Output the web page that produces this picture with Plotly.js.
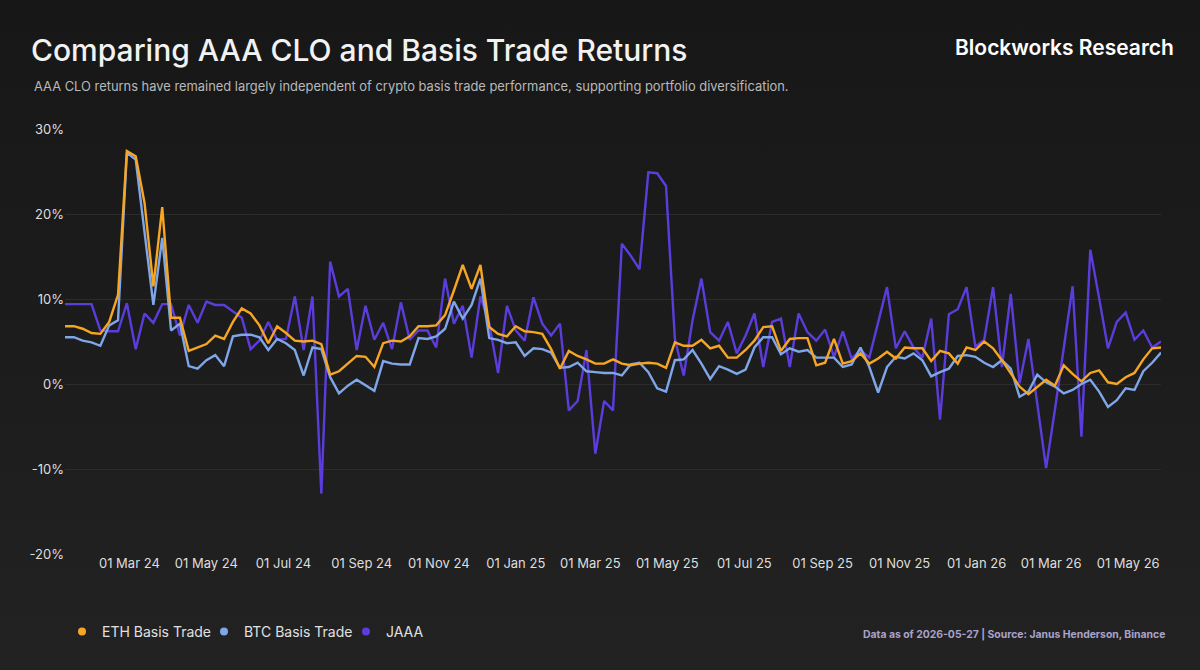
<!DOCTYPE html>
<html>
<head>
<meta charset="utf-8">
<script src="https://cdn.plot.ly/plotly-3.0.1.min.js"></script>
<style>
  html, body { margin: 0; padding: 0; width: 1200px; height: 670px; overflow: hidden;
    background: linear-gradient(180deg, #171717 0%, #1c1c1c 50%, #222222 100%); }
  #chart { width: 1200px; height: 670px; }
</style>
</head>
<body>
<div id="chart"></div>
<script>
// Weekly observations, first week 2024-01-10, last 2026-05-27
const startDate = '2024-01-10';
const seriesNames = ['ETH Basis Trade', 'BTC Basis Trade', 'JAAA'];
const seriesColors = ['#f6a623', '#7ea6e8', '#5b3ddc'];

const ethBasis = [6.8, 6.8, 6.5, 6.0, 5.9, 7.3, 10.5, 27.4, 26.8, 21.3,
  11.5, 20.8, 7.8, 7.8, 3.9, 4.3, 4.7, 5.7, 5.3, 7.3,
  8.9, 8.3, 6.9, 4.8, 6.8, 6.0, 5.1, 5.0, 5.1, 4.7,
  1.1, 1.5, 2.4, 3.3, 3.2, 2.0, 4.8, 5.1, 5.0, 5.6,
  6.8, 6.8, 6.9, 8.1, 11.0, 14.0, 11.2, 14.0, 6.7, 5.9,
  5.6, 6.8, 6.2, 6.1, 5.9, 4.1, 1.8, 3.9, 3.3, 2.9,
  2.4, 2.4, 2.9, 2.4, 2.2, 2.4, 2.5, 2.4, 1.9, 4.9,
  4.5, 4.5, 5.2, 4.2, 4.5, 3.1, 3.1, 4.0, 5.1, 6.7,
  6.8, 3.9, 5.3, 5.4, 5.4, 2.2, 2.5, 5.3, 2.4, 2.7,
  3.6, 2.4, 3.0, 3.8, 3.0, 4.3, 4.2, 4.2, 2.7, 3.9,
  3.6, 2.4, 4.3, 4.0, 5.0, 4.2, 2.8, 1.3, -0.3, -1.2,
  -0.3, 0.5, -0.2, 2.2, 1.2, 0.3, 1.3, 1.6, 0.2, 0.0,
  0.8, 1.3, 2.9, 4.2, 4.3];

const btcBasis = [5.5, 5.5, 5.1, 4.9, 4.5, 6.9, 7.5, 27.2, 26.4, 18.2,
  9.3, 17.2, 6.3, 7.1, 2.1, 1.8, 2.8, 3.4, 2.1, 5.6,
  5.8, 5.8, 5.5, 4.0, 5.3, 4.8, 4.0, 1.0, 4.3, 4.1,
  0.8, -1.1, -0.2, 0.5, -0.2, -0.8, 2.7, 2.4, 2.3, 2.3,
  5.4, 5.3, 5.6, 6.5, 9.7, 7.7, 9.3, 12.4, 5.4, 5.2,
  4.8, 4.9, 3.3, 4.2, 4.1, 3.7, 1.9, 2.0, 2.5, 1.5,
  1.4, 1.3, 1.3, 1.0, 2.3, 2.5, 1.4, -0.5, -0.9, 2.8,
  2.9, 4.0, 2.4, 0.6, 2.1, 1.7, 1.2, 1.7, 4.3, 5.5,
  5.5, 3.5, 4.2, 3.8, 4.0, 3.1, 3.1, 3.1, 2.0, 2.3,
  4.3, 2.0, -1.0, 2.0, 3.2, 3.0, 3.6, 2.8, 0.9, 1.4,
  1.8, 3.3, 3.4, 3.2, 2.5, 2.0, 2.8, 1.8, -1.5, -0.9,
  1.1, 0.2, -0.3, -1.1, -0.7, 0.0, 0.5, -0.9, -2.7, -1.9,
  -0.5, -0.7, 1.5, 2.5, 3.7];

const jaaa = [9.4, 9.4, 9.4, 9.4, 6.3, 6.2, 6.2, 9.5, 4.1, 8.3,
  7.2, 9.4, 9.4, 5.7, 9.3, 7.2, 9.7, 9.3, 9.3, 8.5,
  7.8, 4.1, 5.1, 7.3, 5.2, 5.3, 10.3, 4.0, 10.3, -12.9,
  14.4, 10.3, 11.2, 4.0, 9.2, 5.2, 7.2, 4.1, 9.6, 5.2,
  6.3, 6.3, 4.3, 12.4, 7.1, 9.2, 3.1, 10.3, 7.1, 1.3,
  9.2, 6.3, 5.1, 10.2, 7.1, 5.7, 7.1, -3.1, -2.0, 4.0,
  -8.2, -2.0, -3.1, 16.5, 15.1, 13.5, 24.9, 24.8, 23.3, 5.3,
  1.0, 7.5, 12.4, 6.1, 5.1, 7.3, 3.6, 5.7, 8.3, 2.0,
  7.3, 7.7, 2.0, 8.3, 6.1, 5.1, 6.4, 3.2, 6.2, 3.0,
  4.0, 3.1, 7.3, 11.4, 4.2, 6.2, 4.3, 3.1, 7.7, -4.2,
  8.2, 8.8, 11.4, 4.4, 5.2, 11.4, 2.0, 10.6, 0.1, 5.3,
  -2.3, -9.9, -3.0, 4.2, 11.5, -6.2, 15.8, 10.1, 4.2, 7.3,
  8.4, 5.2, 6.3, 4.3, 5.0];

const yTickVals = [-20, -10, 0, 10, 20, 30];
const yTickText = ['-20%', '-10%', '0%', '10%', '20%', '30%'];

// weekly date categories
const dates = [];
{
  const d0 = new Date(startDate + 'T00:00:00Z');
  for (let i = 0; i < jaaa.length; i++) {
    const d = new Date(d0.getTime() + i * 7 * 86400000);
    dates.push(d.toISOString().slice(0, 10));
  }
}

const allSeries = [ethBasis, btcBasis, jaaa];
const traces = [];
// draw JAAA first (behind), then BTC, then ETH on top
[2, 1, 0].forEach(k => {
  traces.push({
    x: dates, y: allSeries[k], type: 'scatter', mode: 'lines',
    name: seriesNames[k], showlegend: false,
    line: { color: seriesColors[k], width: 2.4 },
    hoverinfo: 'skip'
  });
});
// legend entries with dot symbols
[0, 1, 2].forEach(k => {
  traces.push({
    x: [null], y: [null], type: 'scatter', mode: 'markers',
    name: seriesNames[k], showlegend: true,
    marker: { color: seriesColors[k], size: 8, symbol: 'circle' }
  });
});

const layout = {
  width: 1200, height: 670,
  paper_bgcolor: 'rgba(0,0,0,0)',
  plot_bgcolor: 'rgba(0,0,0,0)',
  margin: { l: 65, r: 39, t: 129, b: 116 },
  font: { family: 'Inter, "Noto Sans", sans-serif', color: '#dcdcdc' },
  title: {
    text: 'Comparing AAA CLO and Basis Trade Returns',
    font: { family: 'Inter, sans-serif', size: 30, color: '#f2f2f2', weight: 500 },
    xref: 'container', yref: 'container',
    x: 31 / 1200, xanchor: 'left',
    y: 1 - 50 / 670, yanchor: 'middle'
  },
  xaxis: {
    type: 'date',
    range: [dates[0], dates[dates.length - 1]],
    showgrid: false, zeroline: false, showline: false,
    ticks: '', tickformat: '%d %b %y',
    dtick: 'M2', tick0: '2024-03-01',
    tickfont: { size: 13, color: '#dedede' },
    fixedrange: true
  },
  yaxis: {
    range: [-20, 30],
    tickmode: 'array',
    tickvals: yTickVals,
    ticktext: yTickText,
    showgrid: true, gridcolor: '#2c2c2c', gridwidth: 1,
    zeroline: false, showline: false, ticks: '',
    tickfont: { size: 13, color: '#dedede' },
    fixedrange: true
  },
  legend: {
    orientation: 'h',
    xref: 'container', yref: 'container',
    x: 62 / 1200, xanchor: 'left',
    y: 1 - 632 / 670, yanchor: 'middle',
    font: { size: 14, color: '#e0e0e0' },
    bgcolor: 'rgba(0,0,0,0)',
    itemwidth: 30,
    entrywidthmode: 'pixels',
    entrywidth: 97
  },
  annotations: [
    {
      text: 'AAA CLO returns have remained largely independent of crypto basis trade performance, supporting portfolio diversification.',
      xref: 'paper', yref: 'paper',
      x: (32 - 65) / 1096, xanchor: 'left',
      y: (554 - 87) / 425, yanchor: 'middle',
      showarrow: false,
      font: { size: 12.9, color: '#b8b8b8' }
    },
    {
      text: 'Blockworks Research',
      xref: 'paper', yref: 'paper',
      x: (1176 - 65) / 1096, xanchor: 'right',
      y: (554 - 47) / 425, yanchor: 'middle',
      showarrow: false,
      font: { size: 21, color: '#ffffff', weight: 600 }
    },
    {
      text: 'Data as of 2026-05-27 | Source: Janus Henderson, Binance',
      xref: 'paper', yref: 'paper',
      x: (1167 - 65) / 1096, xanchor: 'right',
      y: (554 - 634) / 425, yanchor: 'middle',
      showarrow: false,
      font: { size: 10.4, color: '#aaa3c9', weight: 700 }
    }
  ],
  hovermode: false
};

Plotly.newPlot('chart', traces, layout, { displayModeBar: false, staticPlot: true });
</script>
</body>
</html>
